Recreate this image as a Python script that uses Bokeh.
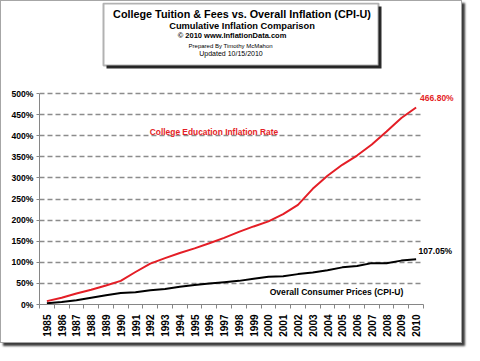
from math import pi
from bokeh.plotting import figure
from bokeh.models import Range1d, FixedTicker, Label, BoxAnnotation
from bokeh.embed import file_html
from bokeh.resources import INLINE

years = list(range(1985, 2011))
college = [8, 16, 26, 35, 45, 56, 77, 97, 110, 122, 133, 145, 158, 172, 185, 197,
           214, 236, 274, 305, 331, 353, 379, 410, 442, 466.80]
cpi = [3, 6, 10, 16, 22, 27, 29, 34, 37, 42, 46, 50, 53, 56, 61, 66,
       67, 72, 76, 81, 88, 91, 98, 98, 104, 107.05]
y_ticks = [0, 50, 100, 150, 200, 250, 300, 350, 400, 450, 500]
y_tick_labels = [f"{t}%" for t in y_ticks]
title_lines = [
    "College Tuition & Fees vs. Overall  Inflation (CPI-U)",
    "Cumulative Inflation Comparison",
    "\u00a9 2010 www.InflationData.com",
    "Prepared  By Timothy McMahon",
    "Updated 10/15/2010",
]
college_label = "College Education Inflation Rate"
cpi_label = "Overall Consumer Prices (CPI-U)"

RED = "#e41e26"
FONT = "Liberation Sans"

W, H = 462, 343
ML, MR, MT, MB = 38, 2, 1, 40
FW, FH = W - ML - MR, H - MT - MB
X0, XMAX = 1984.5, 2010.5
Y0, YMAX = 0, 500
PXX = 384 / (XMAX - X0)     # pixels per year in the data area
PXY = 211 / (YMAX - Y0)     # pixels per percent
X1 = X0 + FW / PXX
Y1 = Y0 + FH / PXY

p = figure(width=W, height=H, output_backend="svg", toolbar_location=None,
           x_range=Range1d(X0, X1), y_range=Range1d(Y0, Y1),
           min_border_left=ML, min_border_right=MR, min_border_top=MT, min_border_bottom=MB)
p.outline_line_color = None
p.background_fill_color = "white"
p.border_fill_color = "white"
p.styles = {"border": "1px solid #a6a6a6", "box-shadow": "3px 3px 2px #3c3c3c"}


def dx(fx):
    return X0 + (fx - ML) / PXX


def dy(fy):
    return Y0 + (MT + FH - fy) / PXY


# grid and axes
p.xgrid.visible = False
p.ygrid.grid_line_color = "#8c8c8c"
p.ygrid.grid_line_dash = "5 3"
p.ygrid.grid_line_width = 1.3
p.ygrid.cross_bounds = (X0, XMAX)

p.yaxis.bounds = (Y0, YMAX)
p.yaxis.ticker = FixedTicker(ticks=y_ticks)
p.yaxis.major_label_overrides = dict(zip(y_ticks, y_tick_labels))
p.yaxis.axis_line_color = "#868686"
p.yaxis.major_tick_line_color = "#868686"
p.yaxis.major_tick_out = 3
p.yaxis.major_tick_in = 0
p.yaxis.minor_tick_line_color = None
p.yaxis.major_label_standoff = 3
p.yaxis.major_label_text_font = FONT
p.yaxis.major_label_text_font_style = "bold"
p.yaxis.major_label_text_font_size = "8.6px"
p.yaxis.major_label_text_color = "black"

p.xaxis.bounds = (X0, XMAX)
p.xaxis.ticker = FixedTicker(ticks=years, minor_ticks=[y - 0.5 for y in years] + [years[-1] + 0.5])
p.xaxis.axis_line_color = "#868686"
p.xaxis.major_tick_line_color = None
p.xaxis.major_tick_out = 0
p.xaxis.major_tick_in = 0
p.xaxis.minor_tick_line_color = "#868686"
p.xaxis.minor_tick_out = 4
p.xaxis.minor_tick_in = 0
p.xaxis.major_label_orientation = pi / 2
p.xaxis.major_label_standoff = 6
p.xaxis.major_label_text_font = FONT
p.xaxis.major_label_text_font_style = "bold"
p.xaxis.major_label_text_font_size = "10px"
p.xaxis.major_label_text_color = "black"

# series
p.line(years, college, line_color=RED, line_width=2)
p.line(years, cpi, line_color="black", line_width=2)

# end value labels
p.add_layout(Label(x=years[-1], y=college[-1], text=f"{college[-1]:.2f}%", x_offset=4, y_offset=10,
                   text_baseline="middle", text_color=RED, text_font=FONT,
                   text_font_style="bold", text_font_size="8.5px"))
p.add_layout(Label(x=years[-1], y=cpi[-1], text=f"{cpi[-1]:.2f}%", x_offset=2.5, y_offset=8,
                   text_baseline="middle", text_color="black", text_font=FONT,
                   text_font_style="bold", text_font_size="8.5px"))

# series labels
p.add_layout(Label(x=dx(212.5), y=dy(130), text=college_label, text_align="center",
                   text_baseline="middle", text_color=RED, text_font=FONT,
                   text_font_style="bold", text_font_size="8.4px"))
p.add_layout(Label(x=dx(335), y=dy(290), text=cpi_label, text_align="center",
                   text_baseline="middle", text_color="black", text_font=FONT,
                   text_font_style="bold", text_font_size="8.6px"))

# title box with shadow
p.add_layout(BoxAnnotation(left=dx(105), right=dx(380), top=dy(5), bottom=dy(67),
                           fill_color="#2a2a2a", fill_alpha=1, line_color=None))
p.add_layout(BoxAnnotation(left=dx(102), right=dx(377), top=dy(2), bottom=dy(64),
                           fill_color="white", fill_alpha=1, line_color="black", line_width=2))

title_specs = [  # (fx, fy, size, style)
    (242, 12, "10.8px", "bold"),
    (240.5, 24, "9.3px", "bold"),
    (230.5, 34.3, "7.5px", "bold"),
    (230, 44, "6px", "normal"),
    (229.5, 52.3, "7px", "normal"),
]
for line, (fx, fy, size, style) in zip(title_lines, title_specs):
    p.add_layout(Label(x=dx(fx), y=dy(fy), text=line, text_align="center", text_baseline="middle",
                       text_color="black", text_font=FONT, text_font_style=style,
                       text_font_size=size))

open("out.html", "w").write(file_html(p, INLINE))
